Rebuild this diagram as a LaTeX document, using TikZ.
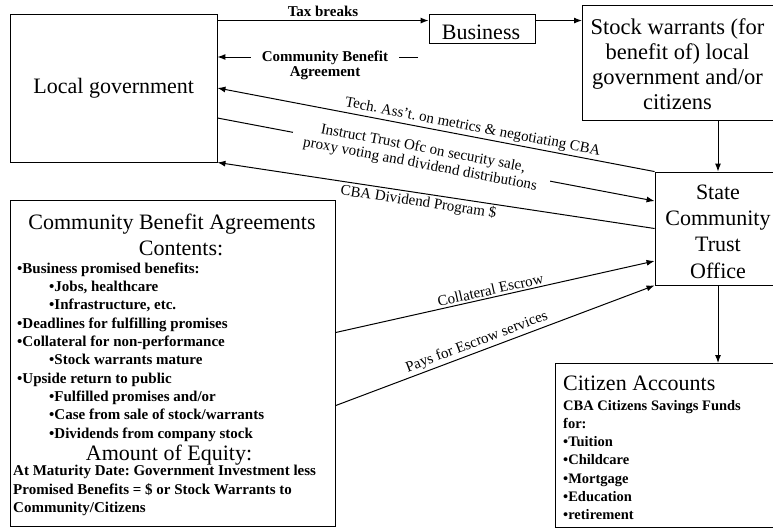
\documentclass[tikz,border=0pt]{standalone}
\usepackage{fontspec}
\setmainfont{Liberation Serif}
\usetikzlibrary{arrows.meta}
\frenchspacing
\tikzset{
  box/.style={draw, line width=0.9pt, rectangle, inner sep=0pt},
  big/.style={font=\fontsize{22}{25}\selectfont},
  sm/.style={font=\fontsize{15}{18}\selectfont\bfseries},
  smc/.style={font=\fontsize{14.5}{18}\selectfont\bfseries},
  lbl/.style={font=\fontsize{15}{15}\selectfont\bfseries, inner sep=1pt},
  dlbl/.style={font=\fontsize{15}{16}\selectfont, inner sep=1pt},
  arr/.style={line width=1pt, -{Latex[length=8pt,width=6pt]}},
  rarr/.style={line width=1pt, {Latex[length=8pt,width=6pt]}-},
  ln/.style={anchor=base west, inner sep=0pt},
  lnc/.style={anchor=base, inner sep=0pt}
}
\begin{document}
\begin{tikzpicture}[x=1pt,y=-1pt]
\useasboundingbox (0,0) rectangle (773,528);
\fill[white] (0,0) rectangle (773,528);

% boxes
\node[box, big, minimum width=206.5pt, minimum height=148pt] (lg) at (113.75,88) {Local government};
\node[box, minimum width=106pt, minimum height=29pt] (biz) at (482,28.5) {};
\node[big, inner sep=0pt] (bizt) at (481,32) {Business};
\node[box, minimum width=200pt, minimum height=115pt, anchor=north west] (sw) at (582,5) {};
\node[font=\fontsize{22.5}{25}\selectfont, align=center, inner sep=0pt] (swt) at (677.5,64.5) {Stock warrants (for\\benefit of) local\\government and/or\\citizens};
\node[box, minimum width=126pt, minimum height=113pt] (sto) at (718,228.5) {};
\node[font=\fontsize{22}{26.3}\selectfont, align=center, inner sep=0pt] (stot) at (718,231.5) {State\\Community\\Trust\\Office};
\node[box, minimum width=235pt, minimum height=164pt, anchor=north west] (ca) at (555,363) {};
\node[box, minimum width=325pt, minimum height=326pt, anchor=north west] (cba) at (10,200) {};

% CBA box text
\node[big, lnc] (c1) at (172,229) {Community Benefit Agreements};
\node[big, lnc] (c2) at (181,255.5) {Contents:};
\node[sm, ln] (b1) at (17,273) {•Business promised benefits:};
\node[sm, ln] (b2) at (49,291.3) {•Jobs, healthcare};
\node[sm, ln] (b3) at (49,309.7) {•Infrastructure, etc.};
\node[sm, ln] (b4) at (17,328) {•Deadlines for fulfilling promises};
\node[sm, ln] (b5) at (17,346.3) {•Collateral for non-performance};
\node[sm, ln] (b6) at (49,364.7) {•Stock warrants mature};
\node[sm, ln] (b7) at (17,383) {•Upside return to public};
\node[sm, ln] (b8) at (49,401.3) {•Fulfilled promises and/or};
\node[sm, ln] (b9) at (49,419.7) {•Case from sale of stock/warrants};
\node[sm, ln] (b10) at (49,438) {•Dividends from company stock};
\node[big, lnc] (c3) at (169,460.5) {Amount of Equity:};
\node[sm, ln] (e1) at (13,475.5) {At Maturity Date: Government Investment less};
\node[sm, ln] (e2) at (13,494) {Promised Benefits = \$ or Stock Warrants to};
\node[sm, ln] (e3) at (13,512.5) {Community/Citizens};

% Citizen accounts text
\node[big, ln] (a0) at (563,390) {Citizen Accounts};
\node[smc, ln] (a1) at (563,410) {CBA Citizens Savings Funds};
\node[smc, ln] (a2) at (563,428.3) {for:};
\node[smc, ln] (a3) at (563,446.6) {•Tuition};
\node[smc, ln] (a4) at (563,464.9) {•Childcare};
\node[smc, ln] (a5) at (563,483.2) {•Mortgage};
\node[smc, ln] (a6) at (563,501.5) {•Education};
\node[smc, ln] (a7) at (563,519.8) {•retirement};

% connectors
\path ([yshift=-7pt]lg.north east) coordinate (tbA);
\draw[arr] (tbA) -- (tbA -| biz.west) node[lbl, midway, above=2pt] {Tax breaks};
\draw[arr] (tbA -| biz.east) -- (tbA -| sw.west);

\coordinate (cbaS) at (418,57);
\draw[arr] (cbaS) -- (cbaS -| lg.east)
  node[lbl, pos=0.4636, yshift=-8pt, fill=white, align=center, inner xsep=11pt] {Community Benefit\\Agreement};

\draw[rarr] (lg.east) -- (sto.north west)
  node[dlbl, pos=0.58, sloped, above=1pt] {Tech. Ass’t. on metrics \& negotiating CBA};
\draw[arr] ([yshift=-30pt]lg.east) -- ([yshift=27.5pt]sto.west)
  node[dlbl, pos=0.467, sloped, fill=white, align=center, inner xsep=12pt, inner ysep=0pt] {Instruct Trust Ofc on security sale,\\proxy voting and dividend distributions};
\draw[rarr] (lg.south east) -- (sto.west)
  node[dlbl, pos=0.463, sloped, below=1pt] {CBA Dividend Program \$};

\draw[arr] ([yshift=31pt]cba.east) -- ([yshift=-32.5pt]sto.west)
  node[dlbl, pos=0.49, sloped, above=1pt] {Collateral Escrow};
\draw[arr] ([yshift=-42pt]cba.east) -- (sto.south west)
  node[dlbl, pos=0.453, sloped, above=1pt] {Pays for Escrow services};

\draw[arr] (sto.north |- sw.south) -- (sto.north);
\draw[arr] (sto.south) -- (sto.south |- ca.north);
\end{tikzpicture}
\end{document}
